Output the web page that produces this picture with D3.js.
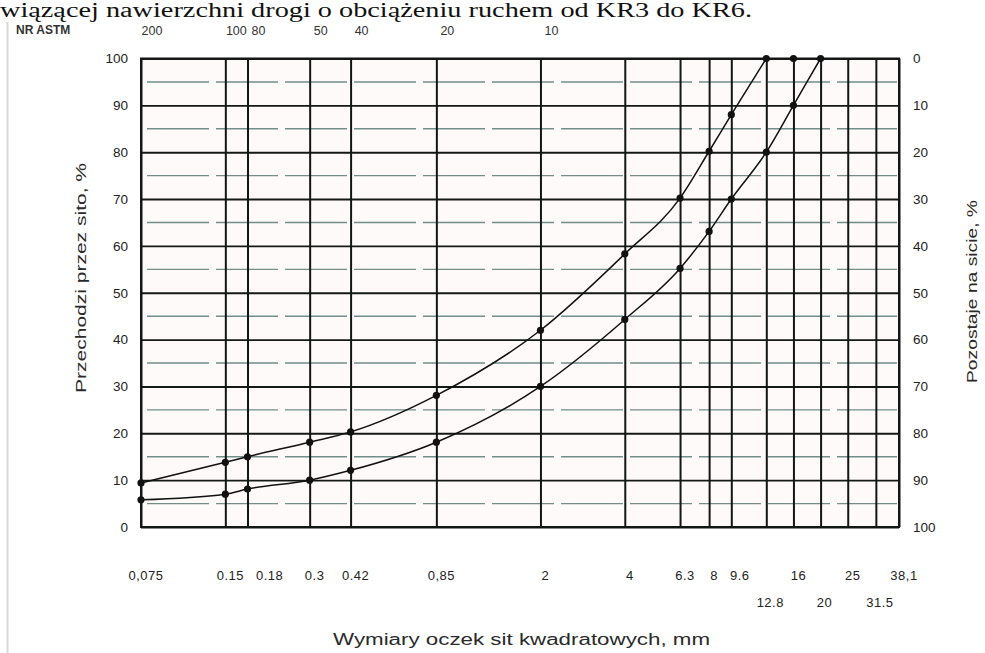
<!DOCTYPE html>
<html>
<head>
<meta charset="utf-8">
<script src="https://cdn.jsdelivr.net/npm/d3@7"></script>
<style>
  html, body { margin: 0; padding: 0; background: #ffffff; }
  svg { display: block; }
  text { font-family: "Liberation Sans", Arial, sans-serif; }
</style>
</head>
<body>
<svg id="chart" width="985" height="653"></svg>
<script>
// ---------------- DATA ----------------
const headerText = "wiązącej nawierzchni drogi o obciążeniu ruchem od KR3 do KR6.";
const astmTitle = "NR ASTM";
const astmNumbers = ["200", "100", "80", "50", "40", "20", "10"];
const astmSizes   = [0.075, 0.15, 0.18, 0.3, 0.42, 0.85, 2];

const sieveSizes = [0.075, 0.15, 0.18, 0.3, 0.42, 0.85, 2, 4, 6.3, 8, 9.6, 12.8, 16, 20, 25, 31.5, 38.1];
const row1Sizes  = [0.075, 0.15, 0.18, 0.3, 0.42, 0.85, 2, 4, 6.3, 8, 9.6, 16, 25, 38.1];
const row1Labels = ["0,075", "0.15", "0.18", "0.3", "0.42", "0,85", "2", "4", "6.3", "8", "9.6", "16", "25", "38,1"];
const row2Sizes  = [12.8, 20, 31.5];
const row2Labels = ["12.8", "20", "31.5"];

const leftTicks  = [0, 10, 20, 30, 40, 50, 60, 70, 80, 90, 100];
const minorTicks = [5, 15, 25, 35, 45, 55, 65, 75, 85, 95];
const rightTicks = [0, 10, 20, 30, 40, 50, 60, 70, 80, 90, 100];

const upperSizes  = [0.075, 0.15, 0.18, 0.3, 0.42, 0.85, 2, 4, 6.3, 8, 9.6, 12.8, 16];
const upperValues = [9.4, 13.8, 15.0, 18.1, 20.3, 28.1, 42.0, 58.3, 70.2, 80.2, 88.0, 100, 100];
const lowerSizes  = [0.075, 0.15, 0.18, 0.3, 0.42, 0.85, 2, 4, 6.3, 8, 9.6, 12.8, 16, 20];
const lowerValues = [5.8, 7.0, 8.1, 10.0, 12.1, 18.1, 30.0, 44.3, 55.2, 63.1, 70.0, 80.0, 90.0, 100];

const leftTitle   = "Przechodzi przez sito, %";
const rightTitle  = "Pozostaje na sicie, %";
const bottomTitle = "Wymiary oczek sit kwadratowych, mm";

// ---------------- LAYOUT ----------------
const svg = d3.select("#chart");
const plot = { left: 141, right: 899, top: 58.5, bottom: 527 };

const x = d3.scaleLog().domain([0.075, 38.1]).range([plot.left, plot.right]);
const y = d3.scaleLinear().domain([0, 100]).range([plot.bottom, plot.top]);
const yR = d3.scaleLinear().domain([100, 0]).range([plot.bottom, plot.top]);

// scan frame
svg.append("line").attr("x1", 7.5).attr("x2", 7.5).attr("y1", 22).attr("y2", 653)
  .attr("stroke", "#d9d9d9").attr("stroke-width", 2);

// header text of the document
svg.append("text")
  .attr("x", 0).attr("y", 17)
  .attr("textLength", 752).attr("lengthAdjust", "spacingAndGlyphs")
  .style("font-family", "'Liberation Serif', 'Times New Roman', serif")
  .style("font-size", "20px").attr("fill", "#111")
  .text(headerText);

// plot background
svg.append("rect")
  .attr("x", plot.left).attr("y", plot.top)
  .attr("width", plot.right - plot.left).attr("height", plot.bottom - plot.top)
  .attr("fill", "#fffafa");

// minor horizontal lines (every 5 %)
svg.append("g").attr("class", "minor")
  .selectAll("line").data(minorTicks).join("line")
  .attr("x1", plot.left + 6).attr("x2", plot.right - 2)
  .attr("y1", d => y(d)).attr("y2", d => y(d))
  .attr("stroke", "#4f746d").attr("stroke-width", 1.4)
  .attr("stroke-dasharray", "62,7").attr("opacity", 0.8);

// major horizontal lines (every 10 %)
const gridY = svg.append("g").attr("transform", `translate(${plot.left},0)`)
  .call(d3.axisLeft(y).tickValues(leftTicks).tickSize(-(plot.right - plot.left)).tickFormat(""));
gridY.select(".domain").remove();
gridY.selectAll("line").attr("stroke", "#141917").attr("stroke-width", 1.9);

// vertical sieve lines
const gridX = svg.append("g").attr("transform", `translate(0,${plot.bottom})`)
  .call(d3.axisBottom(x).tickValues(sieveSizes).tickSize(-(plot.bottom - plot.top)).tickFormat(""));
gridX.select(".domain").remove();
gridX.selectAll("line").attr("stroke", "#121615").attr("stroke-width", 2);

// border
svg.append("rect")
  .attr("x", plot.left).attr("y", plot.top)
  .attr("width", plot.right - plot.left).attr("height", plot.bottom - plot.top)
  .attr("fill", "none").attr("stroke", "#121615").attr("stroke-width", 2);

// left tick labels
const leftAxis = svg.append("g").attr("transform", `translate(${plot.left},0)`)
  .call(d3.axisLeft(y).tickValues(leftTicks).tickSize(0).tickPadding(13));
leftAxis.select(".domain").remove();
leftAxis.selectAll("text").style("font-size", "13.5px").attr("fill", "#222");

// right tick labels
const rightAxis = svg.append("g").attr("transform", `translate(${plot.right},0)`)
  .call(d3.axisRight(yR).tickValues(rightTicks).tickSize(0).tickPadding(14));
rightAxis.select(".domain").remove();
rightAxis.selectAll("text").style("font-size", "13.5px").attr("fill", "#222");

// bottom labels with simple left-to-right collision avoidance
function placeRow(sizes, labels, yPos, shift) {
  const g = svg.append("g");
  const texts = g.selectAll("text").data(sizes).join("text")
    .attr("x", d => x(d) + shift).attr("y", yPos).attr("dy", "0.35em")
    .attr("text-anchor", "middle").style("font-size", "13px").attr("fill", "#222")
    .attr("letter-spacing", "0.5px")
    .text((d, i) => labels[i]);
  let prevRight = -Infinity;
  texts.each(function() {
    const w = this.getComputedTextLength();
    let cx = +this.getAttribute("x");
    if (cx - w / 2 < prevRight + 12) cx = prevRight + 12 + w / 2;
    this.setAttribute("x", cx);
    prevRight = cx + w / 2;
  });
}
placeRow(row1Sizes, row1Labels, 575, 5);
placeRow(row2Sizes, row2Labels, 602, 4);

// ASTM numbers on top
svg.append("text").attr("x", 16).attr("y", 30).attr("dy", "0.35em")
  .style("font-size", "12px").style("font-weight", "bold").attr("fill", "#333")
  .text(astmTitle);
svg.append("g").selectAll("text").data(astmSizes).join("text")
  .attr("x", d => x(d) + 11).attr("y", 31).attr("dy", "0.35em")
  .attr("text-anchor", "middle").style("font-size", "12.5px").attr("fill", "#333")
  .text((d, i) => astmNumbers[i]);

// curves: smooth path up to the first 100 % point, dots on all points
const line = d3.line().x(d => x(d[0])).y(d => y(d[1])).curve(d3.curveMonotoneX);
const upper = upperSizes.map((s, i) => [s, upperValues[i]]);
const lower = lowerSizes.map((s, i) => [s, lowerValues[i]]);

[upper, lower].forEach(series => {
  const end = series.findIndex(d => d[1] >= 100);
  const pathData = series.slice(0, end + 1);
  svg.append("path").datum(pathData)
    .attr("d", line).attr("fill", "none")
    .attr("stroke", "#111").attr("stroke-width", 1.5);
  svg.append("g").selectAll("circle").data(series).join("circle")
    .attr("cx", d => x(d[0])).attr("cy", d => y(d[1])).attr("r", 3.6)
    .attr("fill", "#111");
});

// axis titles
svg.append("text")
  .attr("transform", `translate(86,${(163 + 393) / 2}) rotate(-90)`)
  .attr("text-anchor", "middle")
  .attr("textLength", 230).attr("lengthAdjust", "spacingAndGlyphs")
  .style("font-size", "15px").attr("fill", "#2a2a2a")
  .text(leftTitle);

svg.append("text")
  .attr("transform", `translate(977,${(200 + 383) / 2}) rotate(-90)`)
  .attr("text-anchor", "middle")
  .attr("textLength", 183).attr("lengthAdjust", "spacingAndGlyphs")
  .style("font-size", "14px").attr("fill", "#2a2a2a")
  .text(rightTitle);

svg.append("text")
  .attr("x", (333 + 710) / 2).attr("y", 645)
  .attr("text-anchor", "middle")
  .attr("textLength", 377).attr("lengthAdjust", "spacingAndGlyphs")
  .style("font-size", "16px").attr("fill", "#2a2a2a")
  .text(bottomTitle);
</script>
</body>
</html>
